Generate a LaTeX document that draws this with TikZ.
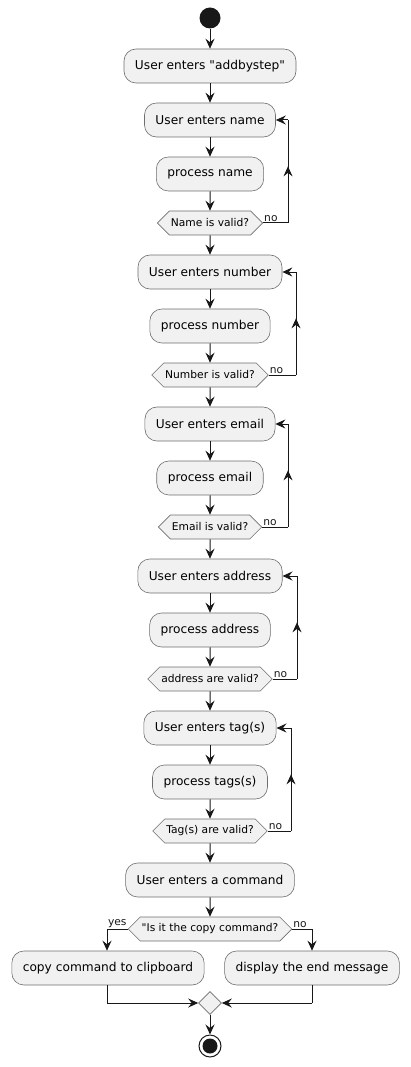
\documentclass[tikz,border=0pt]{standalone}
\usepackage{fontspec}
\setmainfont{DejaVu Sans}
\newfontfamily\dvs{DejaVu Sans}
\usetikzlibrary{arrows.meta,shapes.symbols,shapes.geometric,decorations.markings,calc}
\definecolor{boxfill}{HTML}{F1F1F1}
\definecolor{ink}{HTML}{181818}
\definecolor{edge}{HTML}{6E6E6E}
\tikzset{
  act/.style={draw=edge, line width=0.6pt, fill=boxfill, rounded corners=12pt, minimum height=34pt, inner xsep=11pt, font=\dvs\fontsize{12.2}{14}\selectfont},
  dec/.style={draw=edge, line width=0.6pt, fill=boxfill, shape=signal, signal to=east and west, signal pointer angle=90, minimum height=24pt, inner xsep=1.5pt, inner ysep=0pt, font=\dvs\fontsize{10.7}{12}\selectfont},
  lbl/.style={font=\dvs\fontsize{10.7}{12}\selectfont, inner sep=1pt, text=ink},
  ln/.style={draw=ink, line width=1pt},
  arr/.style={ln, -{Stealth[length=10pt,width=9pt,inset=3.5pt]}},
  midarr/.style={ln, postaction={decorate}, decoration={markings, mark=at position 0.55 with {\arrow{Stealth[length=10pt,width=9pt,inset=3.5pt]}}}},
}
\begin{document}
\begin{tikzpicture}[x=1pt,y=-1pt]
\useasboundingbox (0,0) rectangle (411,1067);
\node[circle, fill=ink, minimum size=21pt, inner sep=0] (start) at (210,18) {};
\node[act] (a0) at (210,66) {User enters "addbystep"};
% name
\node[act] (b1) at (210,120) {User enters name};
\node[act] (p1) at (210,174) {process name};
\node[dec] (d1) at (210,223) {Name is valid?};
% number
\node[act] (b2) at (210,272) {User enters number};
\node[act] (p2) at (210,326) {process number};
\node[dec] (d2) at (210,375) {Number is valid?};
% email
\node[act] (b3) at (210,424) {User enters email};
\node[act] (p3) at (210,478) {process email};
\node[dec] (d3) at (210,527) {Email is valid?};
% address
\node[act] (b4) at (210,576) {User enters address};
\node[act] (p4) at (210,630) {process address};
\node[dec] (d4) at (210,679) {address are valid?};
% tags
\node[act] (b5) at (210,728) {User enters tag(s)};
\node[act] (p5) at (210,782) {process tags(s)};
\node[dec] (d5) at (210,831) {Tag(s) are valid?};
% command
\node[act] (c) at (210,880) {User enters a command};
\node[dec] (dc) at (210,929) {"Is it the copy command?};
\node[act] (cy) at (108,968) {copy command to clipboard};
\node[act] (cn) at (312,968) {display the end message};
\node[draw=edge, line width=0.6pt, fill=boxfill, shape=diamond, minimum width=23pt, minimum height=23pt, inner sep=0pt] (m) at (210,1003) {};
\node[circle, draw=ink, line width=1pt, fill=white, minimum size=22pt, inner sep=0] (end) at (210,1046) {};
\node[circle, fill=ink, minimum size=15pt, inner sep=0] (endin) at (210,1046) {};
% coordinates
\coordinate (l1) at (288,223);
\coordinate (l2) at (296,375);
\coordinate (l3) at (288,527);
\coordinate (l4) at (297,679);
\coordinate (l5) at (291,831);
\coordinate (yy) at (107,929);
\coordinate (nn) at (312,929);
\coordinate (my) at (107,1003);
\coordinate (mn) at (312,1003);
% main flow
\draw[arr] (start) -- (a0);
\draw[arr] (a0) -- (b1);
\draw[arr] (b1) -- (p1);
\draw[arr] (p1) -- (d1);
\draw[arr] (d1) -- (b2);
\draw[arr] (b2) -- (p2);
\draw[arr] (p2) -- (d2);
\draw[arr] (d2) -- (b3);
\draw[arr] (b3) -- (p3);
\draw[arr] (p3) -- (d3);
\draw[arr] (d3) -- (b4);
\draw[arr] (b4) -- (p4);
\draw[arr] (p4) -- (d4);
\draw[arr] (d4) -- (b5);
\draw[arr] (b5) -- (p5);
\draw[arr] (p5) -- (d5);
\draw[arr] (d5) -- (c);
\draw[arr] (c) -- (dc);
% loops
\foreach \i in {1,...,5}{
  \draw[ln] (d\i.east) -- (l\i);
  \draw[midarr] (l\i) -- (l\i |- b\i.east);
  \draw[arr] (l\i |- b\i.east) -- (b\i.east);
  \node[lbl, anchor=south west] at (d\i.east) {no};
}
% branches
\draw[ln] (dc.west) -- (yy);
\draw[arr] (yy) -- (yy |- cy.north);
\node[lbl, anchor=south east] at (dc.west) {yes};
\draw[ln] (dc.east) -- (nn);
\draw[arr] (nn) -- (nn |- cn.north);
\node[lbl, anchor=south west] at (dc.east) {no};
\draw[ln] (cy.south -| my) -- (my);
\draw[arr] (my) -- (m.west);
\draw[ln] (cn.south -| mn) -- (mn);
\draw[arr] (mn) -- (m.east);
\draw[arr] (m.south) -- (end);
\end{tikzpicture}
\end{document}
